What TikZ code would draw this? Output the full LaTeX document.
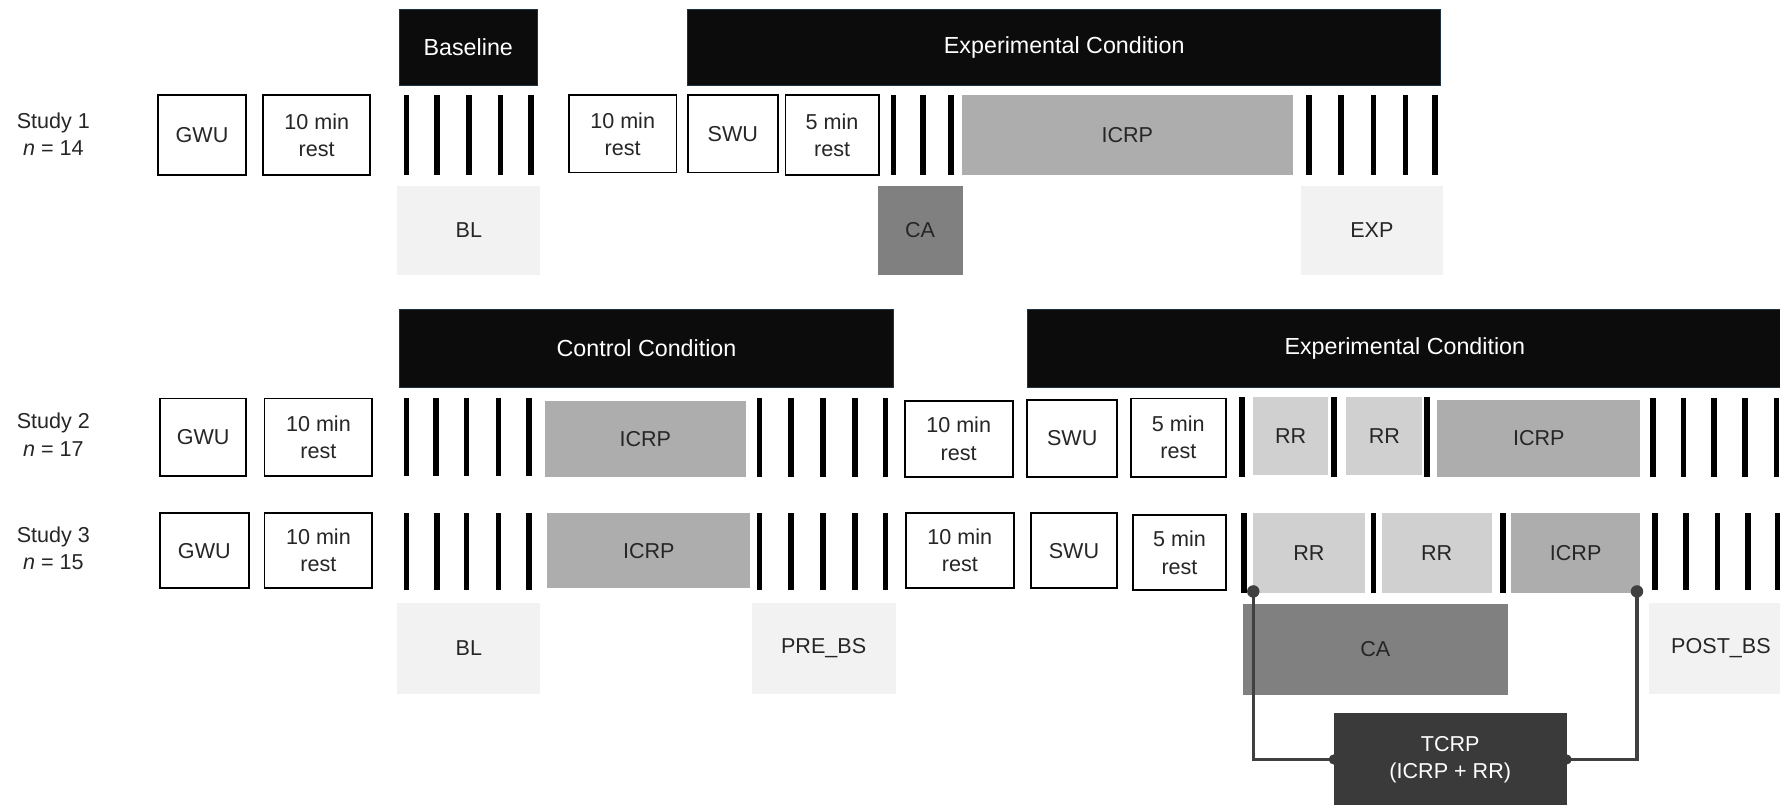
\documentclass[tikz,border=0pt]{standalone}
\usepackage{fontspec}
\setmainfont{Liberation Sans}
\definecolor{hdrc}{HTML}{0C0C0C}
\definecolor{hdrb}{HTML}{1E3444}
\definecolor{icrpc}{HTML}{ADADAD}
\definecolor{rrc}{HTML}{D0D0D0}
\definecolor{cac}{HTML}{808080}
\definecolor{measc}{HTML}{F2F2F2}
\definecolor{tcrpc}{HTML}{3A3A3A}
\definecolor{txtc}{HTML}{262626}
\definecolor{linec}{HTML}{404040}
\newcommand\bx[7]{\node[#1,anchor=north west,minimum width={#4-#2},minimum height={#5-#3}] (#6) at (#2,#3) {#7};}
\begin{document}
\begin{tikzpicture}[x=1pt,y=-1pt,
  font=\fontsize{19}{24}\selectfont,
  every node/.style={inner sep=0pt,outer sep=0pt,align=center,text=txtc},
  wbox/.style={draw=black,line width=1.6pt,fill=white},
  hdr/.style={fill=hdrc,draw=hdrb,line width=0.8pt,text=white,font=\fontsize{20.5}{24}\selectfont},
  icrp/.style={fill=icrpc},
  rr/.style={fill=rrc},
  ca/.style={fill=cac},
  meas/.style={fill=measc},
  tcrp/.style={fill=tcrpc,text=white},
  bar/.style={line width=5pt,black},
  conn/.style={line width=2.8pt,linec},
  lbl/.style={text=txtc}]
\useasboundingbox (0,0) rectangle (1568,709);
% ---------- Study 1 ----------
\bx{hdr}{352}{8}{473}{75}{h1}{Baseline}
\bx{hdr}{606}{8}{1269}{75}{h2}{Experimental Condition}
\node[lbl] (s1) at (47,118) {Study 1\\\textit{n} = 14};
\bx{wbox}{139}{84}{217}{154}{a1}{GWU}
\bx{wbox}{232}{84}{326}{154}{a2}{10 min\\rest}
\foreach \x in {358,385,413,441,468} \draw[bar] (\x,84) -- (\x,154);
\bx{wbox}{501}{84}{596}{152}{a3}{10 min\\rest}
\bx{wbox}{606}{84}{685}{152}{a4}{SWU}
\bx{wbox}{692}{84}{774}{154}{a5}{5 min\\rest}
\foreach \x in {787,813,838} \draw[bar] (\x,84) -- (\x,154);
\bx{icrp}{847}{84}{1139}{154}{a6}{ICRP}
\foreach \x in {1153,1181,1210,1238,1264} \draw[bar] (\x,84) -- (\x,154);
\bx{meas}{350}{164}{476}{242}{m1}{BL}
\bx{ca}{773}{164}{848}{242}{m2}{CA}
\bx{meas}{1146}{164}{1271}{242}{m3}{EXP}
% ---------- Headers 2/3 ----------
\bx{hdr}{352}{273}{787}{341}{h3}{Control Condition}
\bx{hdr}{905}{273}{1570}{341}{h4}{Experimental Condition}
% ---------- Study 2 ----------
\node[lbl] (s2) at (47,383) {Study 2\\\textit{n} = 17};
\bx{wbox}{141}{351}{217}{419}{b1}{GWU}
\bx{wbox}{233}{351}{328}{419}{b2}{10 min\\rest}
\foreach \x in {358,384,411,439,466} \draw[bar] (\x,351) -- (\x,419);
\bx{icrp}{480}{353}{657}{420}{b3}{ICRP}
\foreach \x in {669,697,725,753,780} \draw[bar] (\x,351) -- (\x,420);
\bx{wbox}{797}{353}{892}{420}{b4}{10 min\\rest}
\bx{wbox}{905}{352}{984}{420}{b5}{SWU}
\bx{wbox}{996}{351}{1080}{420}{b6}{5 min\\rest}
\foreach \x in {1094,1175,1257} \draw[bar] (\x,350) -- (\x,420);
\bx{rr}{1104}{350}{1170}{418}{b7}{RR}
\bx{rr}{1186}{350}{1253}{418}{b8}{RR}
\bx{icrp}{1266}{352}{1445}{420}{b9}{ICRP}
\foreach \x in {1456,1483,1510,1537,1565} \draw[bar] (\x,351) -- (\x,420);
% ---------- Study 3 ----------
\node[lbl] (s3) at (47,483) {Study 3\\\textit{n} = 15};
\bx{wbox}{141}{452}{219}{518}{c1}{GWU}
\bx{wbox}{233}{452}{328}{518}{c2}{10 min\\rest}
\foreach \x in {358,385,411,439,466} \draw[bar] (\x,452) -- (\x,520);
\bx{icrp}{482}{452}{661}{518}{c3}{ICRP}
\foreach \x in {669,697,725,753,780} \draw[bar] (\x,452) -- (\x,520);
\bx{wbox}{798}{452}{893}{518}{c4}{10 min\\rest}
\bx{wbox}{908}{452}{984}{518}{c5}{SWU}
\bx{wbox}{998}{454}{1080}{520}{c6}{5 min\\rest}
\bx{rr}{1104}{452}{1202}{522}{c7}{RR}
\bx{rr}{1217}{452}{1314}{522}{c8}{RR}
\bx{icrp}{1331}{452}{1445}{522}{c9}{ICRP}
\foreach \x in {1096,1210,1324} \draw[bar] (\x,452) -- (\x,522);
\foreach \x in {1458,1485,1513,1540,1566} \draw[bar] (\x,452) -- (\x,520);
\bx{meas}{350}{531}{476}{611}{m4}{BL}
\bx{meas}{662}{531}{789}{611}{m5}{PRE\_BS}
\bx{ca}{1095}{532}{1328}{612}{m6}{CA}
\bx{meas}{1453}{531}{1579}{611}{m7}{POST\_BS}
% ---------- TCRP ----------
\bx{tcrp}{1175}{628}{1380}{711}{t1}{TCRP\\(ICRP + RR)}
\coordinate (d1) at (1104,521);
\coordinate (d2) at (1442,521);
\coordinate (tw) at (1175,669);
\coordinate (te) at (1380,669);
\draw[conn] (d1) |- (tw);
\draw[conn] (d2) |- (te);
\fill[linec] (d1) circle[radius=5.5pt];
\fill[linec] (d2) circle[radius=5.5pt];
\fill[tcrpc] (tw) circle[radius=4.5pt];
\fill[tcrpc] (te) circle[radius=4.5pt];
\end{tikzpicture}
\end{document}
